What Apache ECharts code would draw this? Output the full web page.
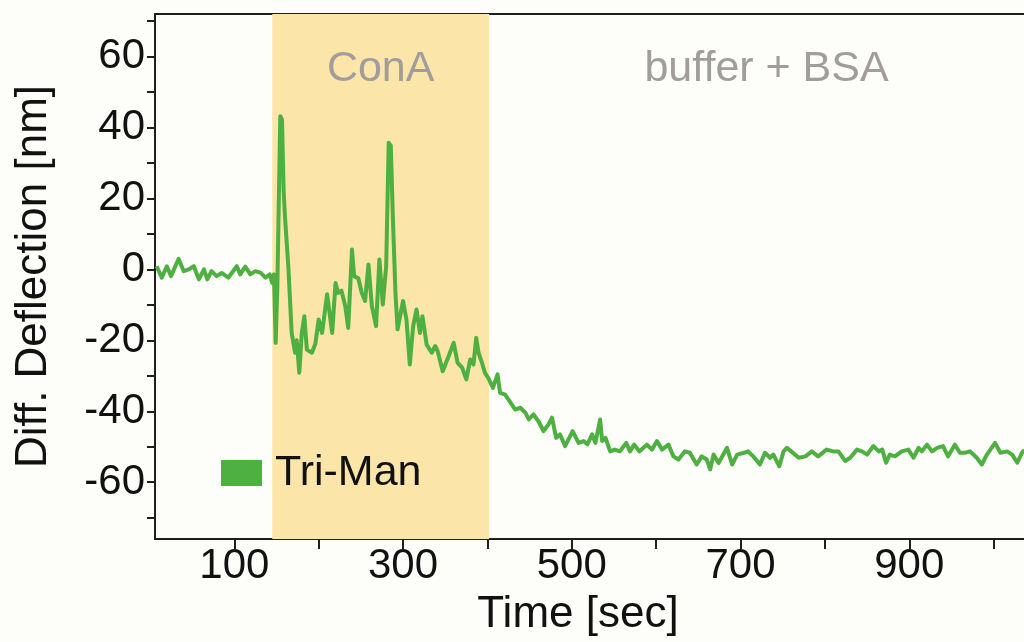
<!DOCTYPE html>
<html>
<head>
<meta charset="utf-8">
<script src="https://cdn.jsdelivr.net/npm/echarts@6/dist/echarts.min.js"></script>
<style>
  html, body { margin: 0; padding: 0; background: #fdfdf9; }
  #chart { width: 1024px; height: 642px; }
</style>
</head>
<body>
<div id="chart"></div>
<script>
// Cantilever differential deflection, Tri-Man coated sensor
const timeSec = [
  8, 14, 20, 25, 34, 40, 46, 52, 58, 64, 68, 73, 79, 85, 93, 103, 107, 113, 119, 125,
  131, 137, 142, 145, 147, 149, 151, 154.5, 156.5, 158.4, 160, 164, 168, 172, 174, 177, 180, 183,
  186, 192, 196, 200, 204, 210, 216, 220, 223, 227, 231.5, 235, 239.5, 242, 247, 251, 255, 259,
  263, 268, 272, 276, 280, 283, 285.5, 288, 291, 293.5, 300, 304, 308, 312, 316, 320, 323, 328,
  334, 338, 341, 347, 354, 360, 364.6, 370, 375, 379.6, 383.5, 386.7, 389.5, 393.5, 397, 401,
  406.5, 412, 415, 421, 425, 429, 433, 439, 445, 449, 454.6, 460.5, 466.5, 472.4, 476.5, 481.5,
  486, 492, 501, 508, 514, 518.6, 524, 528, 533.6, 536, 540, 545.5, 551, 557, 564.5, 569, 574,
  580, 589, 595, 601, 607, 614.6, 620.5, 626.4, 634, 640, 648, 654, 660, 664, 668, 674, 684,
  690, 696, 704, 709, 715, 723, 729, 735, 739, 746, 751, 755, 760, 769, 777, 784.5, 792, 802,
  810, 816, 824, 830, 838, 844, 850, 857.5, 864, 868, 872.5, 877, 883, 891, 899, 905, 911, 915,
  921, 927, 933, 940, 946, 954, 960, 966, 972, 980, 986, 992, 1001.7, 1008, 1016, 1022, 1028,
  1034.5, 1045
];
const deflection = [
  0.9, -2.3, 0.9, -1.9, 3.0, -0.5, 0, 0.9, -2.8, 0, -2.8, -0.5, -1.9, -1, -2.3, 0.9, -1.4, 0.8, -1.4, -0.5,
  -0.9, -2.3, -1.4, -3.8, -1.4, -20.7, -5, 43.2, 42.3, 22.6, 15, 0.9, -17.9, -23.5, -20, -29.1, -17.9, -13.2,
  -22.6, -23.5, -21, -14.1, -17.9, -7, -17.9, -3.8, -6.6, -6, -10.3, -16.5, 5.6, -1.9, -2.5, -6.6, -8.9, 1.4,
  -10.3, -16, 2.8, -9.9, 0.9, 35.7, 34.8, 14.1, -6.6, -16.9, -8.9, -14.1, -26.8, -16, -11.3, -17.9, -13.2, -21.2,
  -23.5, -21.6, -23, -28.7, -24.5, -20.7, -26.3, -27.7, -31, -25.4, -26.8, -19.3, -23.5, -26.3, -29.1, -30.6,
  -33.4, -29.6, -34.8, -35.3, -36.7, -38.1, -39.5, -39, -40.4, -42.3, -40.9, -42.8, -45.6, -43.7, -41.8, -47.5,
  -46.5, -49.8, -45.6, -48.9, -48.4, -49.3, -46.5, -48.9, -42.3, -48.4, -47.5, -51.3, -50.8, -51.3, -48.9, -51.3, -49.4,
  -51.3, -49.4, -50.8, -48.4, -50.8, -49.4, -52.7, -53.6, -51.3, -51.7, -55, -52.7, -53.6, -56.4, -52.2, -54.6, -50.3,
  -55, -52.2, -51.7, -51.3, -52.7, -55, -51.7, -53.1, -52.2, -55.5, -51.3, -50.3, -51.3, -53.1, -52.7, -51.3, -52.7, -50.8,
  -51.3, -51.3, -54, -53.1, -50.8, -51.3, -52.2, -49.8, -51.3, -50.8, -54.5, -52.2, -52.7, -51.3, -50.8, -53.1, -50.3, -51.3,
  -49.4, -51.3, -50.3, -49.8, -52.7, -49.4, -51.7, -51.7, -51.3, -53.1, -55, -52.2, -48.9, -51.7, -51.3, -52.2, -54.5,
  -51.3, -50.5
];

const X_MIN = 6, X_MAX = 1036;

// Injection phases (start, end in seconds) and their captions
const phaseNames = ['ConA', 'buffer + BSA'];
const phaseStart = [145, 402];
const phaseEnd = [402, X_MAX];
const phaseFill = ['#fbe5a8', 'rgba(0,0,0,0)'];
const captionShift = [0, 10];

// Axis ticks and labels
const xTicks = [100, 200, 300, 400, 500, 600, 700, 800, 900, 1000];
const xLabels = [100, 300, 500, 700, 900];
const yTicks = [-70, -60, -50, -40, -30, -20, -10, 0, 10, 20, 30, 40, 50, 60, 70];
const yLabels = [-60, -40, -20, 0, 20, 40, 60];

const FONT = '"Liberation Sans", Arial, sans-serif';
const AXIS_COLOR = '#1e1e1e';

const points = timeSec.map((t, i) => [t, deflection[i]]);
const areas = phaseNames.map((name, i) => [
  {
    name: name, xAxis: phaseStart[i],
    itemStyle: { color: phaseFill[i] },
    label: { offset: [captionShift[i], 0] }
  },
  { xAxis: phaseEnd[i] }
]);

const chart = echarts.init(document.getElementById('chart'), null, { renderer: 'canvas' });
chart.setOption({
  backgroundColor: '#fdfdf9',
  animation: false,
  textStyle: { fontFamily: FONT },
  grid: { left: 155, right: 0, top: 14, bottom: 101, show: false },
  legend: {
    left: 216, top: 446,
    icon: 'rect', itemWidth: 41, itemHeight: 26,
    data: [{ name: 'Tri-Man', itemStyle: { color: '#4db040' } }],
    textStyle: { fontSize: 43, color: '#111', fontFamily: FONT, padding: [0, 0, 0, 8], lineHeight: 44 }
  },
  xAxis: [{
    type: 'value', min: X_MIN, max: X_MAX,
    name: 'Time [sec]', nameLocation: 'middle', nameGap: 54,
    nameTextStyle: { fontSize: 44, color: '#111', fontFamily: FONT, padding: [0, 23, 0, 0] },
    axisLine: { show: true, onZero: false, lineStyle: { color: AXIS_COLOR, width: 2 } },
    axisTick: { show: true, inside: false, length: 10, customValues: xTicks, lineStyle: { color: AXIS_COLOR, width: 2 } },
    axisLabel: { fontSize: 42, color: '#111', margin: 6, customValues: xLabels, fontFamily: FONT },
    splitLine: { show: false }
  }, {
    // top frame line
    type: 'value', position: 'top', min: X_MIN, max: X_MAX,
    axisLine: { show: true, onZero: false, lineStyle: { color: AXIS_COLOR, width: 2 } },
    axisTick: { show: false }, axisLabel: { show: false }, splitLine: { show: false }
  }],
  yAxis: {
    type: 'value', min: -76, max: 72,
    name: 'Diff. Deflection [nm]', nameLocation: 'middle', nameGap: 99,
    nameTextStyle: { fontSize: 44, color: '#111', fontFamily: FONT },
    axisLine: { show: true, onZero: false, lineStyle: { color: AXIS_COLOR, width: 2 } },
    axisTick: { show: true, inside: false, length: 8, customValues: yTicks, lineStyle: { color: AXIS_COLOR, width: 2 } },
    axisLabel: { fontSize: 42, color: '#111', margin: 10, customValues: yLabels, fontFamily: FONT },
    splitLine: { show: false }
  },
  series: [{
    name: 'Tri-Man',
    type: 'line',
    xAxisIndex: 0,
    data: points,
    showSymbol: false,
    smooth: false,
    lineStyle: { color: '#4db040', width: 4, join: 'round' },
    itemStyle: { color: '#4db040' },
    z: 3,
    markArea: {
      silent: true,
      z: 1,
      label: {
        show: true, position: 'insideTop', distance: 34,
        fontSize: 43, color: '#a29d9d', fontFamily: FONT
      },
      data: areas
    }
  }]
});
</script>
</body>
</html>
